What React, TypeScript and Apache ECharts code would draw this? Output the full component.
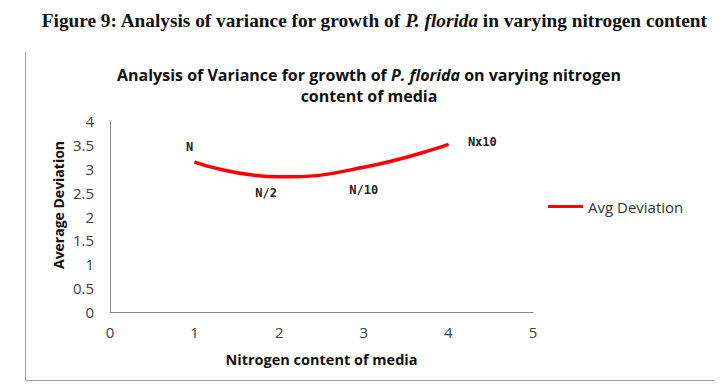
import React, { useEffect, useRef } from "react";
import * as echarts from "echarts";

const xValues = [1, 2, 3, 4];
const avgDeviation = [3.14, 2.83, 3.03, 3.51];
const pointLabels = ["N", "N/2", "N/10", "Nx10"];
const yTicks = { min: 0, max: 4, interval: 0.5 };
const xTicks = { min: 0, max: 5, interval: 1 };
const seriesName = "Avg Deviation";

const labelOffsets: Array<{ position: any; offset: number[] }> = [
  { position: "top", offset: [-5, -4] },
  { position: "bottom", offset: [-13, 5] },
  { position: "bottom", offset: [0, 11] },
  { position: "right", offset: [14, -2] },
];

export default function App() {
  const ref = useRef<HTMLDivElement>(null);
  useEffect(() => {
    if (!ref.current) return;
    const chart = echarts.init(ref.current, null, { renderer: "svg" });
    const data = xValues.map((x, i) => ({
      value: [x, avgDeviation[i]],
      label: {
        show: true,
        formatter: pointLabels[i],
        position: labelOffsets[i].position,
        offset: labelOffsets[i].offset,
        fontFamily: "DejaVu Sans Mono",
        fontSize: 12,
        fontWeight: "bold",
        color: "#222",
      },
    }));
    chart.setOption({
      animation: false,
      backgroundColor: "#ffffff",
      title: [
        {
          text: "Figure 9: Analysis of variance for growth of {i|P. florida} in varying nitrogen content",
          left: 369,
          top: 6,
          textAlign: "center",
          textStyle: {
            fontFamily: "Liberation Serif",
            fontSize: 19.3,
            fontWeight: "bold",
            color: "#111",
            rich: {
              i: {
                fontFamily: "Liberation Serif",
                fontSize: 19.3,
                fontWeight: "bold",
                fontStyle: "italic",
                color: "#111",
              },
            },
          },
        },
        {
          text:
            "Analysis of Variance for growth of {i|P. florida} on varying nitrogen\ncontent of media",
          left: 364,
          top: 59,
          textAlign: "center",
          textStyle: {
            fontFamily: "Open Sans",
            fontSize: 16,
            fontWeight: "bold",
            color: "#111",
            lineHeight: 21,
            rich: {
              i: {
                fontFamily: "Open Sans",
                fontSize: 16,
                fontWeight: "bold",
                fontStyle: "italic",
                color: "#111",
                lineHeight: 21,
              },
            },
          },
        },
      ],
      legend: {
        left: 548,
        top: 199,
        padding: 0,
        icon: "rect",
        itemWidth: 35,
        itemHeight: 3,
        textStyle: { fontFamily: "Open Sans", fontSize: 15, color: "#333" },
        data: [seriesName],
      },
      grid: { left: 110, right: 190, top: 121, bottom: 77, containLabel: false },
      xAxis: {
        type: "value",
        min: xTicks.min,
        max: xTicks.max,
        interval: xTicks.interval,
        name: "Nitrogen content of media",
        nameLocation: "middle",
        nameGap: 40,
        nameTextStyle: {
          fontFamily: "Open Sans",
          fontSize: 14.5,
          fontWeight: "bold",
          color: "#111",
        },
        axisLine: { show: true, lineStyle: { color: "#888", width: 1 } },
        axisTick: { show: false },
        splitLine: { show: false },
        axisLabel: {
          fontFamily: "Open Sans",
          fontSize: 15,
          color: "#404040",
          margin: 12,
        },
      },
      yAxis: {
        type: "value",
        min: yTicks.min,
        max: yTicks.max,
        interval: yTicks.interval,
        axisLine: { show: true, lineStyle: { color: "#888", width: 1 } },
        axisTick: { show: false },
        splitLine: { show: false },
        axisLabel: {
          fontFamily: "Open Sans",
          fontSize: 15,
          color: "#404040",
          margin: 16,
        },
      },
      graphic: [
        {
          type: "polyline",
          shape: {
            points: [
              [25.5, 52],
              [25.5, 380.5],
              [715.5, 380.5],
              [715.5, 52],
            ],
          },
          style: { stroke: "#a0a0a0", lineWidth: 1, fill: "none" },
          silent: true,
        },
        {
          type: "text",
          x: 58,
          y: 205,
          rotation: Math.PI / 2,
          style: {
            text: "Average Deviation",
            fontFamily: "Open Sans",
            fontSize: 14,
            fontWeight: "bold",
            fill: "#111",
            align: "center",
            verticalAlign: "middle",
          },
          silent: true,
        },
      ],
      series: [
        {
          name: seriesName,
          type: "line",
          data,
          smooth: 0.5,
          showSymbol: true,
          symbol: "circle",
          symbolSize: 1,
          lineStyle: { color: "#ff0000", width: 3.5 },
          itemStyle: { color: "#ff0000" },
        },
      ],
    });
    return () => chart.dispose();
  }, []);
  return <div ref={ref} style={{ width: 723, height: 389, margin: -8 }} />;
}
